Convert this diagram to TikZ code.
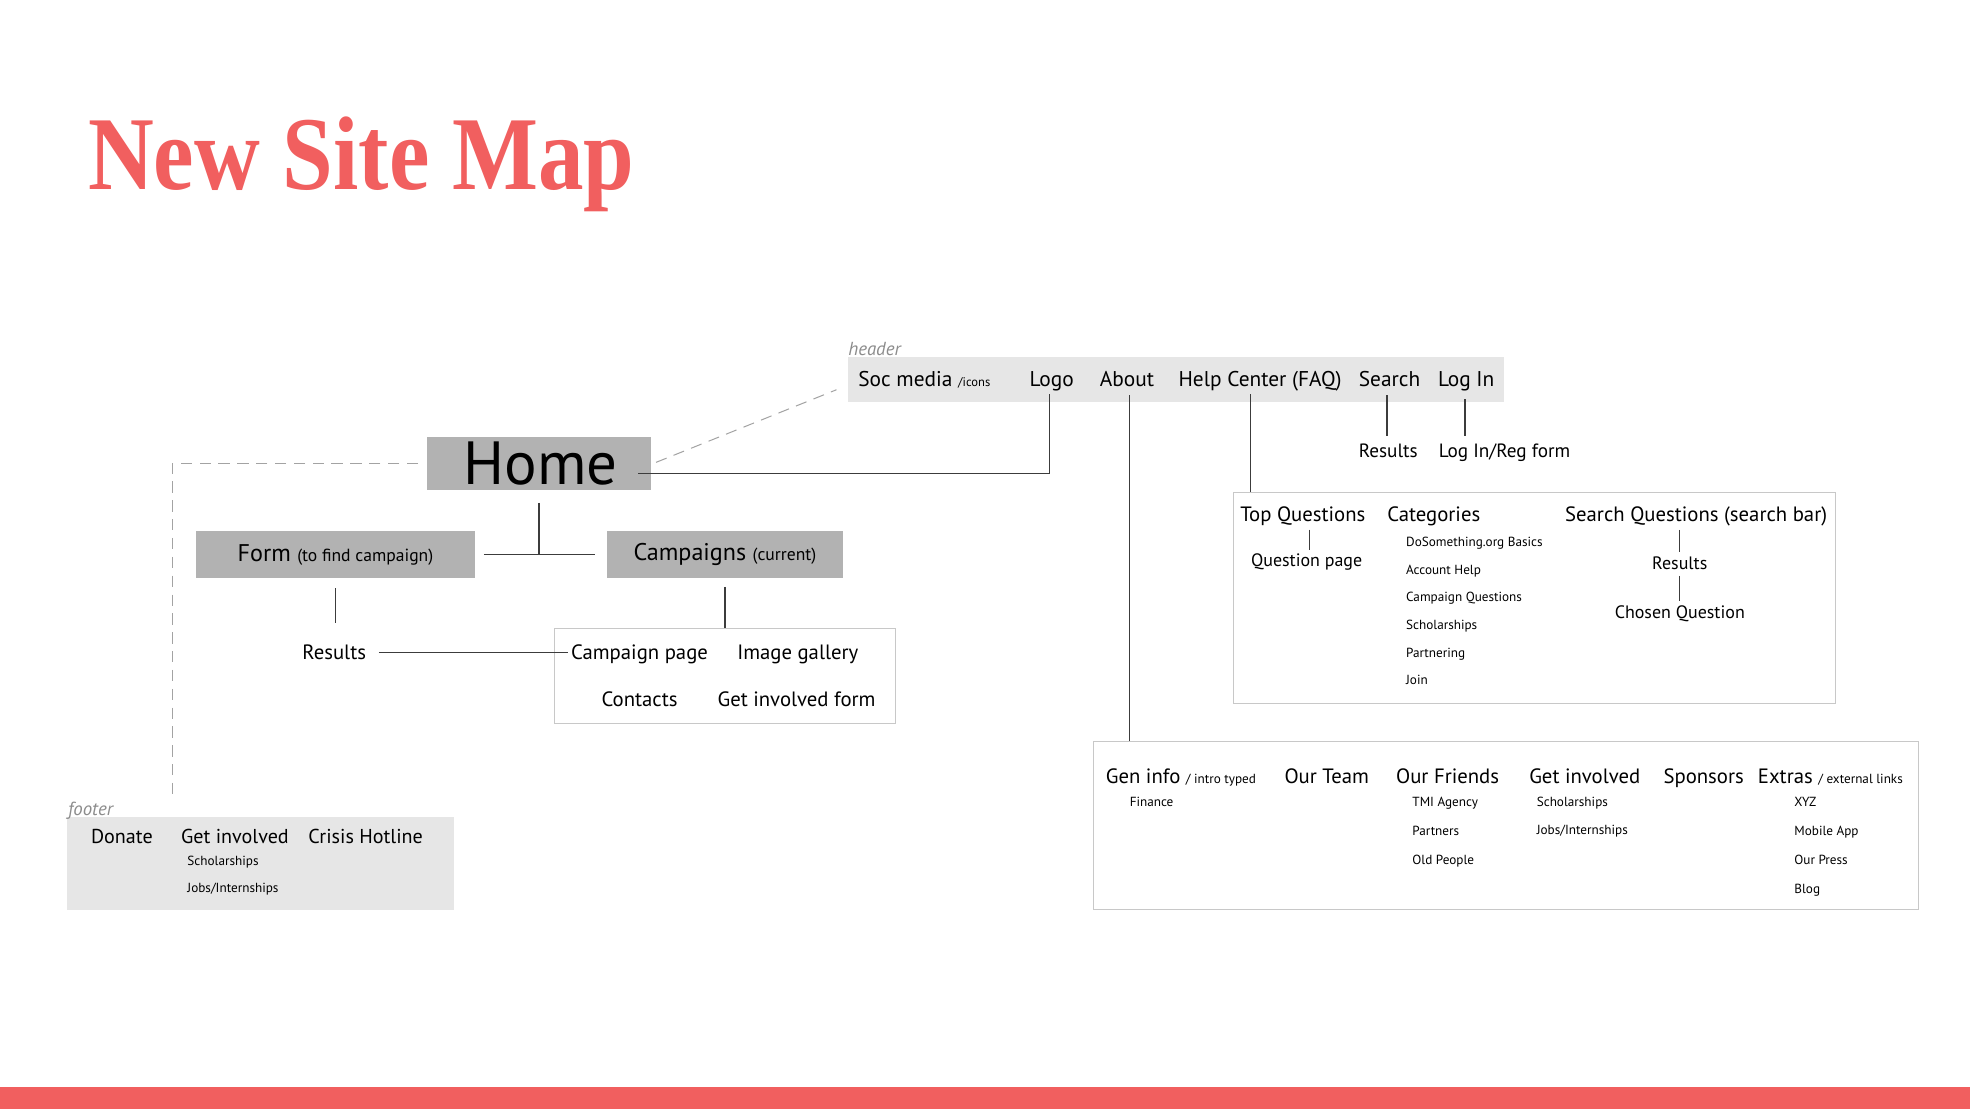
\documentclass[tikz,border=0pt]{standalone}
\usepackage{fontspec}
\setmainfont{PT Sans}
\newfontfamily\titlefont{Liberation Serif}
\definecolor{coral}{RGB}{241,95,95}
\definecolor{hdrgray}{RGB}{230,230,230}
\definecolor{boxgray}{RGB}{178,178,178}
\definecolor{bordergray}{RGB}{200,200,200}
\definecolor{lblgray}{RGB}{140,140,140}
\definecolor{linegray}{RGB}{60,60,60}
\newcommand{\fsz}[1]{\fontsize{#1}{#1}\selectfont}
\begin{document}
\begin{tikzpicture}[x=1pt,y=-1pt,
  txt/.style={inner sep=0pt, anchor=base, font=\fsz{16.5}},
  mtxt/.style={inner sep=0pt, anchor=base, font=\fsz{14.3}},
  htxt/.style={inner sep=0pt, anchor=base, font=\fsz{17}},
  stxt/.style={inner sep=0pt, anchor=base west, font=\fsz{10.5}},
  lbl/.style={inner sep=0pt, anchor=base west, font=\fsz{15}\itshape, text=lblgray},
  graybox/.style={fill=boxgray, draw=none, inner sep=0pt},
  lightbox/.style={fill=hdrgray, draw=none, inner sep=0pt},
  wbox/.style={fill=white, draw=bordergray, line width=0.8pt, inner sep=0pt},
  conn/.style={draw=linegray, line width=0.9pt},
  dashline/.style={draw=lblgray!80, line width=0.8pt, dash pattern=on 9pt off 6pt}]
\useasboundingbox (0,0) rectangle (1568,883);
\fill[white] (0,0) rectangle (1568,883);
% title and bottom bar
\node[inner sep=0pt, anchor=base west, text=coral, font=\titlefont\bfseries\fsz{72.5}] (title) at (70,151) {\scalebox{1}[1.15]{New Site Map}};
\fill[coral] (0,865) rectangle (1568,883);

% header
\node[lightbox, minimum width=522pt, minimum height=36pt] (hdr) at (936,302) {};
\node[lbl] (hdrlbl) at (675,283) {header};
\node[htxt, anchor=base west] (soc) at (683,308) {Soc media {\fsz{10}/icons}};
\node[htxt] (logo) at (837,308) {Logo};
\node[htxt] (about) at (897,308) {About};
\node[htxt] (help) at (1003,308) {Help Center (FAQ)};
\node[htxt] (search) at (1106,308) {Search};
\node[htxt] (login) at (1167,308) {Log In};
\node[txt, font=\fsz{15.3}] (sres) at (1105,364) {Results};
\node[txt, anchor=base west, font=\fsz{15.3}] (logreg) at (1145,364) {Log In/Reg form};

% home and children
\node[graybox, minimum width=178pt, minimum height=42pt, font=\fsz{48.5}] (home) at (429,369) {\hspace*{3pt}Home};
\node[graybox, minimum width=222pt, minimum height=37pt, font=\fsz{19.2}] (form) at (267,441.5) {Form {\fsz{14}(to find campaign)}};
\node[graybox, minimum width=188pt, minimum height=37pt, font=\fsz{19.2}] (camp) at (577,441.5) {Campaigns {\fsz{14}(current)}};
\node[txt] (res) at (266,525) {Results};
\node[wbox, minimum width=272pt, minimum height=76pt] (cbox) at (577,538) {};
\node[txt] (cpage) at (509,525) {Campaign page};
\node[txt] (gallery) at (635,525) {Image gallery};
\node[txt] (contacts) at (509,562) {Contacts};
\node[txt] (giform) at (634,562) {Get involved form};

% help center box
\node[wbox, minimum width=479pt, minimum height=168pt] (hbox) at (1221.5,476) {};
\node[txt] (topq) at (1037,415) {Top Questions};
\node[mtxt] (qpage) at (1040,451) {Question page};
\node[txt, anchor=base west] (cats) at (1104,415) {Categories};
\node[stxt] (c1) at (1119,435) {DoSomething.org Basics};
\node[stxt] (c2) at (1119,457) {Account Help};
\node[stxt] (c3) at (1119,479) {Campaign Questions};
\node[stxt] (c4) at (1119,501) {Scholarships};
\node[stxt] (c5) at (1119,523) {Partnering};
\node[stxt] (c6) at (1119,545) {Join};
\node[txt] (sq) at (1350,415) {Search Questions (search bar)};
\node[mtxt] (sqres) at (1337,453) {Results};
\node[mtxt] (chosen) at (1337,492) {Chosen Question};

% about box
\node[wbox, minimum width=657pt, minimum height=134pt] (abox) at (1198.5,657) {};
\node[txt, anchor=base west] (gen) at (880,624) {Gen info {\fsz{10.5}/ intro typed}};
\node[stxt] (fin) at (899,642) {Finance};
\node[txt] (team) at (1056,624) {Our Team};
\node[txt, anchor=base west] (friends) at (1111,624) {Our Friends};
\node[stxt] (f1) at (1124,642) {TMI Agency};
\node[stxt] (f2) at (1124,665) {Partners};
\node[stxt] (f3) at (1124,688) {Old People};
\node[txt, anchor=base west] (ginv) at (1217,624) {Get involved};
\node[stxt] (g1) at (1223,642) {Scholarships};
\node[stxt] (g2) at (1223,664) {Jobs/Internships};
\node[txt] (spons) at (1356,624) {Sponsors};
\node[txt, anchor=base west] (extras) at (1399,624) {Extras {\fsz{10.5}/ external links}};
\node[stxt] (e1) at (1428,642) {XYZ};
\node[stxt] (e2) at (1428,665) {Mobile App};
\node[stxt] (e3) at (1428,688) {Our Press};
\node[stxt] (e4) at (1428,711) {Blog};

% footer
\node[lightbox, minimum width=308pt, minimum height=74pt] (fbox) at (207,687) {};
\node[lbl] (ftrlbl) at (54,649) {footer};
\node[txt, font=\fsz{16}] (donate) at (97,671) {Donate};
\node[txt, font=\fsz{16}] (fginv) at (187,671) {Get involved};
\node[txt, font=\fsz{16}] (crisis) at (291,671) {Crisis Hotline};
\node[stxt] (fs1) at (149,689) {Scholarships};
\node[stxt] (fs2) at (149,710) {Jobs/Internships};

% connectors
\coordinate (homeR) at (508,377);
\coordinate (logoTop) at ([xshift=-2pt,yshift=-2pt]logo.south);
\draw[conn] (logoTop) |- (homeR);
\coordinate (aboutTop) at ([xshift=2pt,yshift=-6pt]about.south);
\draw[conn] (aboutTop) -- (aboutTop |- abox.north);
\coordinate (helpTop) at ([xshift=-8pt,yshift=-2pt]help.south);
\draw[conn] (helpTop) -- (helpTop |- hbox.north);
\coordinate (searchTop) at ([xshift=-2pt,yshift=-6pt]search.south);
\draw[conn] (searchTop) -- ([yshift=6pt]searchTop |- sres.north);
\coordinate (loginTop) at ([xshift=-1pt,yshift=-6pt]login.south);
\draw[conn] (loginTop) -- ([yshift=6pt]loginTop |- logreg.north);

\coordinate (homeB) at ([yshift=-10pt]home.south);
\draw[conn] (homeB) -- (homeB |- form.east);
\draw[conn] ([xshift=7pt]form.east) -- ([xshift=-9pt]camp.west);
\coordinate (formB) at ([yshift=-8pt]form.south);
\draw[conn] (formB) -- ([yshift=17pt]formB |- res.north);
\draw[conn] ([xshift=10pt]res.east) -- ([xshift=-2pt]res.east -| cpage.west);
\coordinate (campB) at ([yshift=-7pt]camp.south);
\draw[conn] (campB) -- (campB |- cbox.north);

\coordinate (tqB) at ([xshift=5pt,yshift=-3pt]topq.south);
\draw[conn, line width=0.7pt] (tqB) -- ([yshift=3pt]tqB |- qpage.north);
\coordinate (sqB) at ([xshift=-13pt,yshift=-3pt]sq.south);
\draw[conn, line width=0.7pt] (sqB) -- ([yshift=3pt]sqB |- sqres.north);
\coordinate (srB) at ([yshift=-5pt]sqres.south);
\draw[conn, line width=0.7pt] (srB) -- ([yshift=3pt]srB |- chosen.north);

% dashed links
\coordinate (hdash) at ([xshift=-9pt,yshift=10pt]hdr.south west);
\draw[dashline] ([xshift=4pt,yshift=1pt]home.east) -- (hdash);
\coordinate (fdash) at (137,636);
\draw[dashline] ([xshift=-7pt]home.west) -| (fdash);
\end{tikzpicture}
\end{document}
